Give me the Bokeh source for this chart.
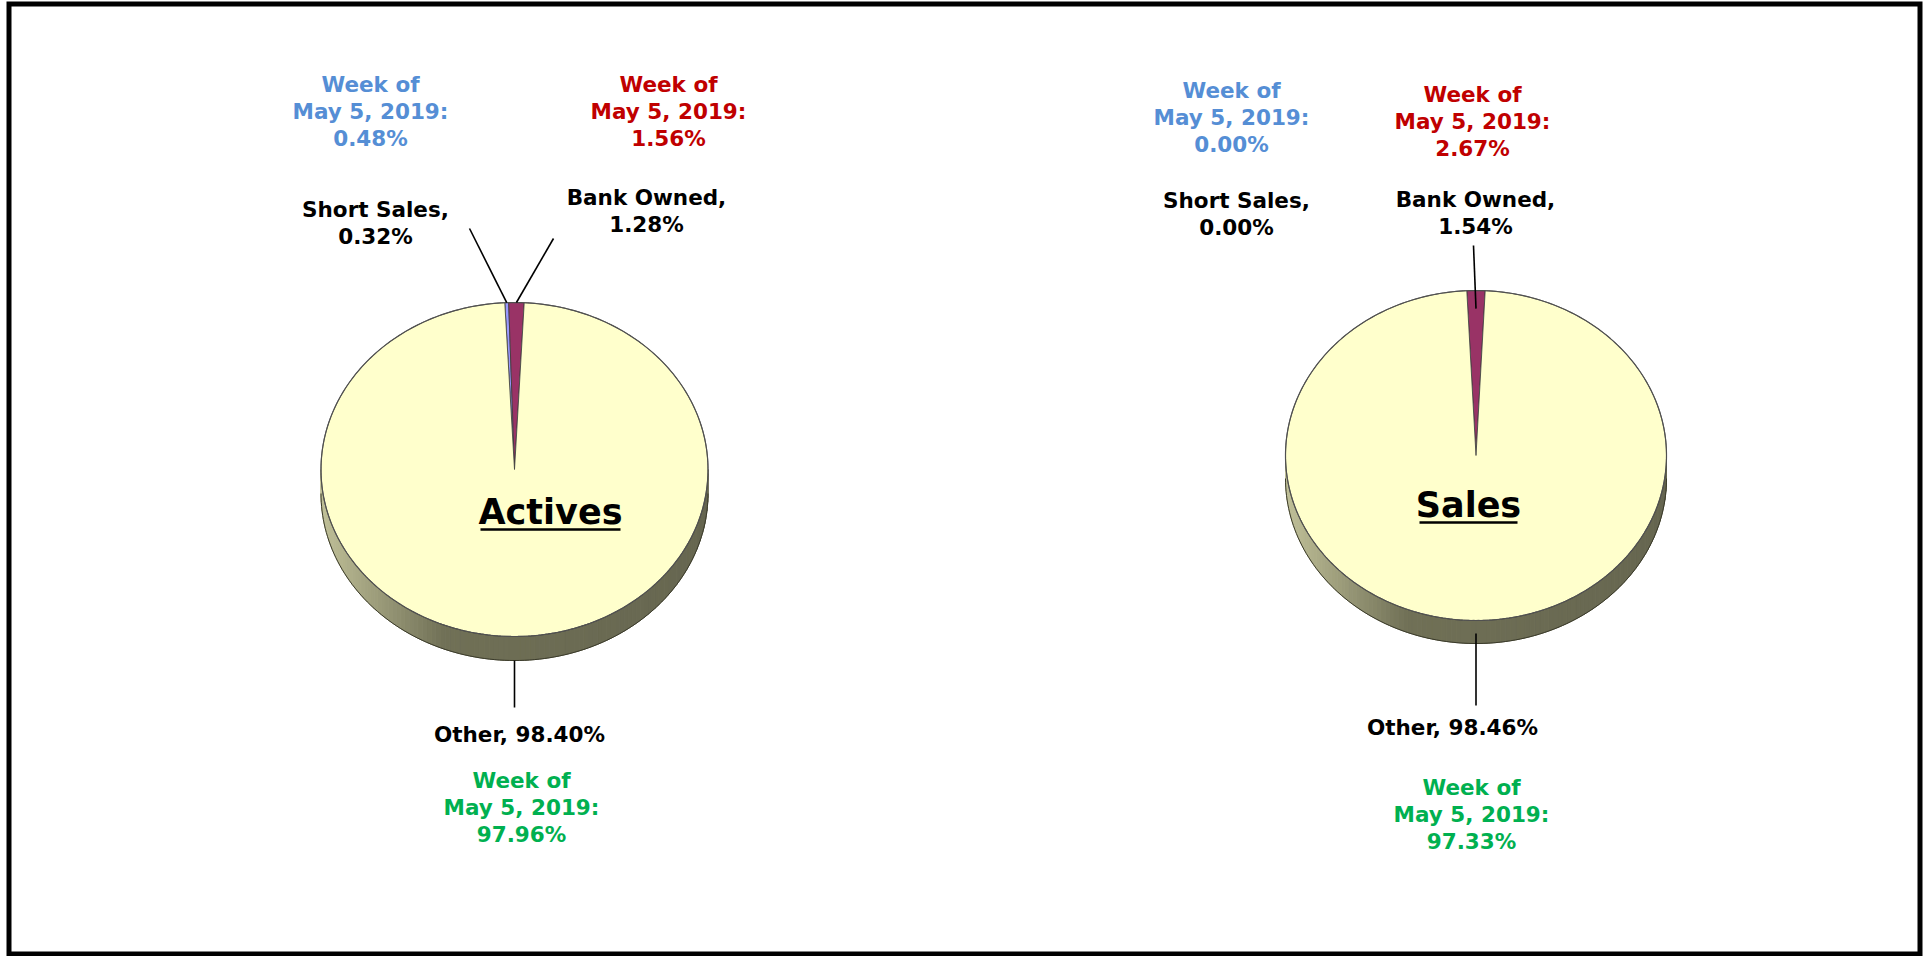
import numpy as np
from bokeh.plotting import figure
from bokeh.models import Range1d, ColumnDataSource
from bokeh.core.properties import value
from bokeh.embed import file_html
from bokeh.resources import INLINE

# ---------------- data ----------------
charts = ["Actives", "Sales"]
categories = ["Short Sales", "Bank Owned", "Other"]
short_sales = [0.32, 0.00]
bank_owned = [1.28, 1.54]
other = [98.40, 98.46]
week_label = "May 5, 2019"
week_short = [0.48, 0.00]
week_bank = [1.56, 2.67]
week_other = [97.96, 97.33]
slice_colors = ["#9999FF", "#993366", "#FFFFCC"]

# ---------------- layout (page pixel coordinates) ----------------
W, H = 1931, 956
X0, Y0 = 0, 0
layout = [
    dict(cx=514, cy=469, rx=193.5, ry=167, depth=24,
         title=(550, 525), ul=(480, 620, 529),
         blue=(370, 92), red=(668, 92), short=(375, 217), bank=(646, 205),
         other=(519, 742), green=(521, 788),
         short_lead=(469, 228, 1.0), bank_lead=(553, 238, 1.0),
         other_lead=(660, 707)),
    dict(cx=1475.5, cy=455, rx=190.5, ry=165, depth=23,
         title=(1468, 518), ul=(1419, 1517, 522),
         blue=(1231, 98), red=(1472, 102), short=(1236, 208), bank=(1475, 207),
         other=(1452, 735), green=(1471, 795),
         short_lead=None, bank_lead=(1473, 245, 0.89),
         other_lead=(633, 705)),
]
FONT = "DejaVu Sans"
FS = 21.5
TITLE_FS = 35
LINE_GAP = 27
BASE_K = 0.38  # correction: renderer places baseline ~0.38em below anchor

p = figure(width=W, height=H, x_range=Range1d(X0, X0 + W), y_range=Range1d(Y0 + H, Y0),
           output_backend="svg", toolbar_location=None, x_axis_type=None, y_axis_type=None,
           min_border=0, background_fill_color="white", border_fill_color="white")
p.outline_line_color = None
p.grid.visible = False


def pt(L, theta_deg, f=1.0, dy=0.0):
    t = np.radians(theta_deg)
    return L["cx"] + f * L["rx"] * np.sin(t), L["cy"] - f * L["ry"] * np.cos(t) + dy


def shade(t):
    stops = [(0.0, (192, 192, 152)), (0.32, (112, 112, 86)), (1.0, (102, 102, 80))]
    for (t0, c0), (t1, c1) in zip(stops[:-1], stops[1:]):
        if t <= t1:
            a = (t - t0) / (t1 - t0)
            c = [int(round(c0[k] + a * (c1[k] - c0[k]))) for k in range(3)]
            return "#%02x%02x%02x" % tuple(c)
    return "#%02x%02x%02x" % stops[-1][1]


text_rows = dict(x=[], y=[], text=[], color=[], size=[])


def add_text(x, y, lines, color, size=FS):
    for i, s in enumerate(lines):
        text_rows["x"].append(x)
        text_rows["y"].append(y + i * LINE_GAP - BASE_K * size)
        text_rows["text"].append(s)
        text_rows["color"].append(color)
        text_rows["size"].append(f"{size}px")


for ci, name in enumerate(charts):
    L = layout[ci]
    vals = [short_sales[ci], bank_owned[ci], other[ci]]
    total = sum(vals)
    angs = [v / total * 360.0 for v in vals]
    # "Other" centred at the bottom of the pie, slices clockwise
    start = 180.0 + angs[2] / 2.0 - 360.0
    bounds = []
    a = start
    for g in angs:
        bounds.append((a, a + g))
        a += g

    # side of the 3D pie (front half), shaded strips
    n = 120
    th = np.linspace(90, 270, n + 1)
    sxs, sys_, scs = [], [], []
    for k in range(n):
        t1, t2 = th[k], th[k + 1]
        arc = np.linspace(t1, t2, 3)
        xt, yt = pt(L, arc)
        xb, yb = pt(L, arc[::-1], dy=L["depth"])
        sxs.append(list(xt) + list(xb))
        sys_.append(list(yt) + list(yb))
        xm = L["cx"] + L["rx"] * np.sin(np.radians((t1 + t2) / 2))
        scs.append(shade((xm - (L["cx"] - L["rx"])) / (2 * L["rx"])))
    p.patches(sxs, sys_, fill_color=scs, line_color=scs, line_width=1)
    bx, by = pt(L, th, dy=L["depth"])
    p.line(bx, by, line_color="#3a3a2a", line_width=1)

    # top face wedges
    wxs, wys, wcs = [], [], []
    for (b0, b1), col in zip(bounds, slice_colors):
        if b1 - b0 <= 0:
            continue
        arc = np.linspace(b0, b1, max(3, int((b1 - b0) * 2)))
        xa, ya = pt(L, arc)
        wxs.append([L["cx"]] + list(xa))
        wys.append([L["cy"]] + list(ya))
        wcs.append(col)
    p.patches(wxs, wys, fill_color=wcs, line_color="#3c3c3c", line_width=0.8)
    ex, ey = pt(L, np.linspace(0, 360, 361))
    p.line(ex, ey, line_color="#505050", line_width=1.2)

    # leader lines
    mids = [(b0 + b1) / 2 for b0, b1 in bounds]
    if L["short_lead"] is not None:
        lx, ly, f = L["short_lead"]
        px_, py_ = pt(L, mids[0], f)
        p.line([lx, px_], [ly, py_], line_color="black", line_width=1.6)
    if L["bank_lead"] is not None:
        lx, ly, f = L["bank_lead"]
        px_, py_ = pt(L, mids[1], f)
        p.line([lx, px_], [ly, py_], line_color="black", line_width=1.6)
    ox, _ = pt(L, mids[2])
    oy0, oy1 = L["other_lead"]
    p.line([ox, ox], [oy0, oy1], line_color="black", line_width=1.6)

    # labels
    add_text(*L["blue"], ["Week of", f"{week_label}:", f"{week_short[ci]:.2f}%"], "#558ED5")
    add_text(*L["red"], ["Week of", f"{week_label}:", f"{week_bank[ci]:.2f}%"], "#C00000")
    add_text(*L["green"], ["Week of", f"{week_label}:", f"{week_other[ci]:.2f}%"], "#00B050")
    add_text(*L["short"], [f"{categories[0]},", f"{short_sales[ci]:.2f}%"], "black")
    add_text(*L["bank"], [f"{categories[1]},", f"{bank_owned[ci]:.2f}%"], "black")
    add_text(*L["other"], [f"{categories[2]}, {other[ci]:.2f}%"], "black")
    add_text(*L["title"], [name], "black", size=TITLE_FS)
    u0, u1, uy = L["ul"]
    p.line([u0, u1], [uy, uy], line_color="black", line_width=2.5)

src = ColumnDataSource(text_rows)
p.text(x="x", y="y", text="text", text_color="color", text_font_size="size", source=src,
       text_font=value(FONT), text_font_style="bold", text_align="center",
       text_baseline="alphabetic")

# frame border
bw = 5
left, right, top, bottom = 8.5, 1919.5, 3.5, 953.5
p.line([left, right, right, left, left],
       [top, top, bottom, bottom, top - bw / 2],
       line_color="black", line_width=bw, line_join="miter")

open("out.html", "w").write(file_html(p, INLINE))
